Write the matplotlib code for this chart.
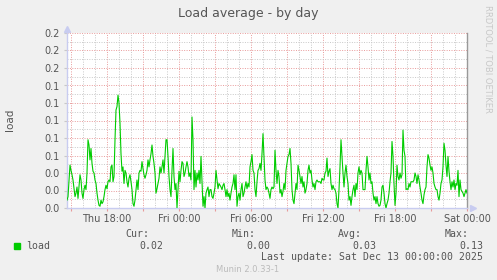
import numpy as np
import matplotlib
matplotlib.use('Agg')
import matplotlib.pyplot as plt
from matplotlib.ticker import MultipleLocator, FuncFormatter

# load samples (5 minute steps), oldest first
load_a = [0.009, 0.013, 0.032, 0.049, 0.043, 0.038, 0.032, 0.022, 0.013, 0.017,
          0.024, 0.011, 0.024, 0.038, 0.032, 0.017, 0.011, 0.021, 0.026, 0.021,
          0.040, 0.078, 0.072, 0.055, 0.068, 0.051, 0.042, 0.040, 0.032, 0.028,
          0.017, 0.009, 0.003, 0.002, 0.009, 0.005, 0.007, 0.013, 0.021, 0.026,
          0.022, 0.030, 0.032, 0.030, 0.047, 0.049, 0.030, 0.036, 0.078, 0.112,
          0.116, 0.129, 0.120, 0.097, 0.062, 0.042, 0.047, 0.028, 0.043, 0.040,
          0.030, 0.024, 0.034, 0.038, 0.030, 0.021, 0.005, 0.002, 0.009, 0.021,
          0.032, 0.021, 0.040, 0.043, 0.042, 0.053, 0.045, 0.038, 0.034, 0.038,
          0.043, 0.055, 0.047, 0.055, 0.062, 0.072, 0.059, 0.051, 0.040, 0.017,
          0.022, 0.028, 0.034, 0.047, 0.040, 0.047, 0.055, 0.040, 0.059, 0.078]
load_b = [0.078, 0.059, 0.036, 0.021, 0.013, 0.043, 0.068, 0.036, 0.021, 0.028,
          0.000, 0.021, 0.042, 0.030, 0.043, 0.053, 0.051, 0.036, 0.040, 0.047,
          0.053, 0.047, 0.036, 0.040, 0.032, 0.104, 0.078, 0.021, 0.043, 0.024,
          0.040, 0.032, 0.043, 0.028, 0.059, 0.030, 0.002, 0.013, 0.000, 0.017,
          0.021, 0.024, 0.013, 0.021, 0.021, 0.013, 0.011, 0.017, 0.024, 0.043,
          0.032, 0.022, 0.028, 0.026, 0.024, 0.021, 0.026, 0.028, 0.021, 0.013,
          0.021, 0.013, 0.017, 0.009, 0.017, 0.024, 0.028, 0.038, 0.021, 0.038,
          0.002, 0.013, 0.017, 0.009, 0.021, 0.028, 0.013, 0.017, 0.024, 0.030,
          0.022, 0.028, 0.024, 0.047, 0.053, 0.061, 0.043, 0.040, 0.021, 0.013,
          0.030, 0.043, 0.045, 0.051, 0.043, 0.062, 0.085, 0.059, 0.032, 0.021]
load_c = [0.024, 0.022, 0.017, 0.011, 0.021, 0.024, 0.022, 0.024, 0.066, 0.043,
          0.028, 0.043, 0.036, 0.017, 0.021, 0.013, 0.019, 0.028, 0.021, 0.043,
          0.051, 0.059, 0.061, 0.068, 0.051, 0.021, 0.009, 0.005, 0.017, 0.028,
          0.021, 0.049, 0.043, 0.036, 0.028, 0.036, 0.024, 0.030, 0.017, 0.021,
          0.028, 0.043, 0.049, 0.040, 0.043, 0.032, 0.024, 0.028, 0.021, 0.030,
          0.032, 0.030, 0.030, 0.030, 0.028, 0.034, 0.032, 0.032, 0.040, 0.042,
          0.057, 0.036, 0.042, 0.045, 0.028, 0.021, 0.026, 0.022, 0.021, 0.017,
          0.005, 0.000, 0.021, 0.047, 0.078, 0.059, 0.040, 0.024, 0.040, 0.049,
          0.036, 0.028, 0.009, 0.013, 0.003, 0.013, 0.021, 0.026, 0.013, 0.028,
          0.021, 0.040, 0.047, 0.038, 0.043, 0.040, 0.021, 0.021, 0.021, 0.043]
load_d = [0.059, 0.047, 0.032, 0.040, 0.028, 0.030, 0.017, 0.009, 0.013, 0.005,
          0.013, 0.005, 0.002, 0.003, 0.009, 0.024, 0.026, 0.017, 0.005, 0.000,
          0.005, 0.009, 0.017, 0.030, 0.040, 0.076, 0.059, 0.028, 0.003, 0.017,
          0.049, 0.036, 0.032, 0.040, 0.034, 0.038, 0.089, 0.066, 0.059, 0.021,
          0.022, 0.021, 0.028, 0.024, 0.030, 0.030, 0.030, 0.032, 0.040, 0.036,
          0.028, 0.038, 0.032, 0.024, 0.017, 0.009, 0.005, 0.015, 0.021, 0.024,
          0.047, 0.061, 0.057, 0.049, 0.043, 0.047, 0.040, 0.028, 0.024, 0.021,
          0.021, 0.013, 0.009, 0.017, 0.028, 0.032, 0.047, 0.074, 0.066, 0.049,
          0.036, 0.059, 0.042, 0.030, 0.021, 0.030, 0.024, 0.032, 0.021, 0.028,
          0.026, 0.043, 0.013, 0.032, 0.021, 0.019, 0.017, 0.013, 0.017, 0.021,
          0.017]

tick_hours = [-30, -24, -18, -12, -6, 0]
tick_labels = ['Thu 18:00', 'Fri 00:00', 'Fri 06:00', 'Fri 12:00', 'Fri 18:00', 'Sat 00:00']
last_update = 'Sat Dec 13 00:00:00 2025'

load = np.array(load_a + load_b + load_c + load_d)
hours = np.linspace(-(len(load) - 1) * 5 / 60, 0, len(load))

W, H = 497, 280
bg = '#F0F0F0'
txt = '#555555'
green = '#00CC00'


def fx(x):
    return x / W


def fy(y):
    return 1 - y / H


fig = plt.figure(figsize=(W / 100, H / 100), dpi=100, facecolor=bg)
ax = fig.add_axes([fx(67), fy(208), 400 / W, 175 / H])
ax.set_facecolor('white')

ax.plot(hours, load, color=green, lw=0.8, zorder=3)
ax.set_xlim(hours[0], 0)
ax.set_ylim(0, 0.2)

# grid: red dotted major, grey dotted minor
ax.xaxis.set_major_locator(MultipleLocator(3))
ax.xaxis.set_minor_locator(MultipleLocator(1))
ax.yaxis.set_major_locator(MultipleLocator(0.02))
ax.yaxis.set_minor_locator(MultipleLocator(0.01))
ax.grid(which='minor', color='#C8C8C8', ls=(0, (1, 1.5)), lw=0.7)
ax.grid(which='major', color='#E89A9A', ls=(0, (1, 1.5)), lw=0.7)
ax.set_axisbelow(True)

lbl = dict(zip(tick_hours, tick_labels))
ax.xaxis.set_major_formatter(FuncFormatter(lambda v, p: lbl.get(int(round(v)), '')))
ax.yaxis.set_major_formatter(FuncFormatter(lambda v, p: '%.1f' % v))
ax.tick_params(axis='x', which='major', length=2, color='#E89A9A', labelsize=7,
               labelcolor=txt, pad=2)
ax.tick_params(axis='y', which='major', length=2, color='#C8C8C8', labelsize=7,
               labelcolor=txt, pad=3)
ax.tick_params(which='minor', length=0)

for s in ['left', 'bottom']:
    ax.spines[s].set_color('#C8CCF0')
    ax.spines[s].set_linewidth(1)
ax.spines['top'].set_visible(False)
ax.spines['right'].set_color('#999999')
ax.spines['right'].set_linewidth(1)

# axis arrows
ax.plot([0], [1.025], marker='^', ms=4, color='#C8CCF0', transform=ax.transAxes, clip_on=False)
ax.plot([1.015], [0], marker='>', ms=4, color='#C8CCF0', transform=ax.transAxes, clip_on=False)

fig.text(fx(248), fy(14), 'Load average - by day', ha='center', va='center', fontsize=9, color=txt)
fig.text(fx(10), fy(120), 'load', rotation=90, ha='center', va='center', fontsize=7.5, color=txt)
fig.text(fx(488), fy(5), 'RRDTOOL / TOBI OETIKER', rotation=270, ha='center', va='top',
         fontsize=6, color='#C8C8C8')

# legend block
mono = dict(family='DejaVu Sans Mono', fontsize=7.1, color=txt)
heads = ['Cur:', 'Min:', 'Avg:', 'Max:']
head_x = [149, 256, 362, 469]
stats = [load[-1], load.min(), load.mean(), load.max()]
val_x = [163, 270, 376, 483]
for h, x in zip(heads, head_x):
    fig.text(fx(x), fy(234), h, ha='right', va='center', **mono)
for v, x in zip(stats, val_x):
    fig.text(fx(x), fy(246), '%.2f' % v, ha='right', va='center', **mono)
fig.patches.append(plt.Rectangle((fx(14), fy(249)), 6 / W, 6 / H, color=green,
                                 transform=fig.transFigure, figure=fig))
fig.text(fx(26), fy(246), 'load', ha='left', va='center', **mono)
fig.text(fx(483), fy(257), 'Last update: ' + last_update, ha='right', va='center', **mono)
fig.text(fx(248), fy(269), 'Munin 2.0.33-1', ha='center', va='center', fontsize=6, color='#BBBBBB')

fig.savefig('out.png', dpi=100, facecolor=bg)
